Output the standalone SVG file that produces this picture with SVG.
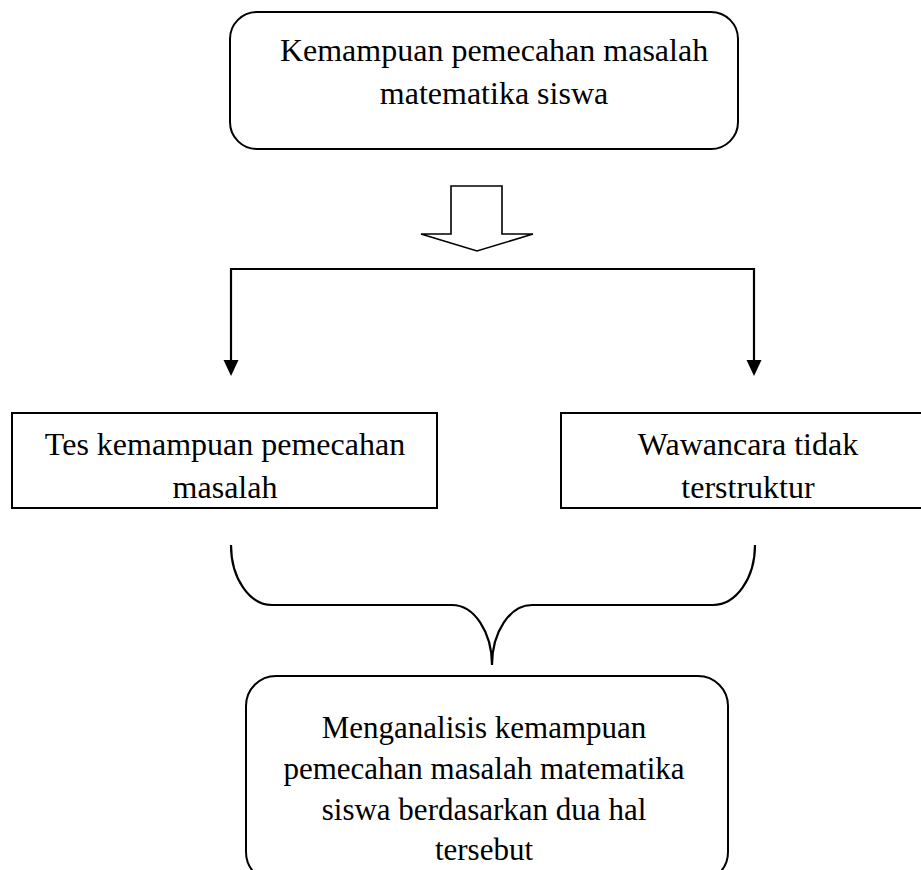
<svg xmlns="http://www.w3.org/2000/svg" width="921" height="870" viewBox="0 0 921 870">
<style>
.box{fill:#fff;stroke:#000;stroke-width:2}
.t{font-family:"Liberation Serif","Times New Roman",serif;font-size:32px;fill:#000;text-anchor:middle}
.tb{font-size:31px}
.ln{fill:none;stroke:#000;stroke-width:2.2}
.ah{fill:#000;stroke:none}
</style>
<rect width="921" height="870" fill="#fff"/>
<g id="node-top">
<rect class="box" x="230" y="12" width="508" height="137" rx="27" ry="27"/>
<text class="t" x="494" y="61">Kemampuan pemecahan masalah</text>
<text class="t" x="494" y="104">matematika siswa</text>
</g>
<g id="node-arrow">
<path d="M451,186 L502,186 L502,234 L533,234 L477,251 L421,234 L451,234 Z" fill="#fff" stroke="#000" stroke-width="1.6"/>
</g>
<g id="connectors">
<path class="ln" d="M231,362 L231,269 L754,269 L754,362"/>
<path class="ah" d="M223.5,360 L238.5,360 L231,376 Z"/>
<path class="ah" d="M746.5,360 L761.5,360 L754,376 Z"/>
<path class="ln" d="M231,545 A41,60 0 0 0 272,605 L452,605 A40,60 0 0 1 492,665 A40,60 0 0 1 532,605 L713,605 A42,60 0 0 0 755,545"/>
</g>
<g id="node-tes">
<rect class="box" x="12" y="413" width="425" height="95"/>
<text class="t" x="225" y="455">Tes kemampuan pemecahan</text>
<text class="t" x="225" y="498">masalah</text>
</g>
<g id="node-wawancara">
<rect class="box" x="561" y="413" width="374" height="95"/>
<text class="t" x="748" y="455">Wawancara tidak</text>
<text class="t" x="748" y="498">terstruktur</text>
</g>
<g id="node-bottom">
<rect class="box" x="246" y="676" width="482" height="206" rx="30" ry="30"/>
<text class="t tb" x="484" y="738">Menganalisis kemampuan</text>
<text class="t tb" x="484" y="779">pemecahan masalah matematika</text>
<text class="t tb" x="484" y="820">siswa berdasarkan dua hal</text>
<text class="t tb" x="484" y="860">tersebut</text>
</g>
</svg>
